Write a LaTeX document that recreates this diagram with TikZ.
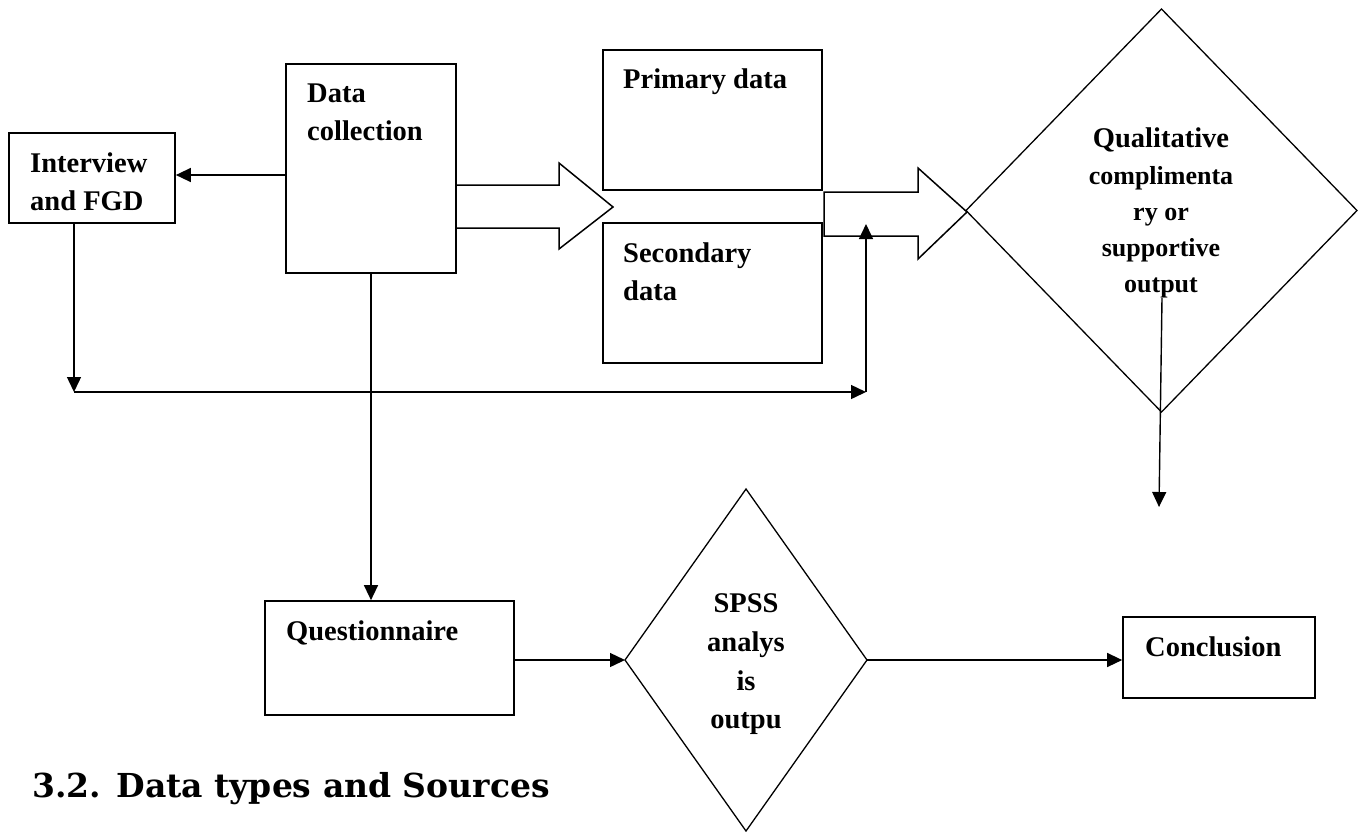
\documentclass[tikz,border=0pt]{standalone}
\usepackage{fontspec}
\setmainfont{Liberation Serif}
\newfontfamily\headfont{DejaVu Serif}
\usetikzlibrary{shapes.geometric,arrows.meta,fit}

\tikzset{
  box/.style={draw, line width=1.7pt, rectangle, inner sep=0pt},
  decision/.style={draw, diamond, line width=1.3pt, inner sep=0pt, outer sep=0pt},
  blockarrow/.style={draw, line width=1.5pt, line join=miter},
  conn/.style={line width=1.4pt, -{Triangle[length=15pt,width=14pt]}},
  txt/.style={inner sep=0pt, font=\fontsize{28.5}{36}\selectfont\bfseries},
  smalltxt/.style={inner sep=0pt, font=\fontsize{26}{36}\selectfont\bfseries},
}

\begin{document}
\begin{tikzpicture}[x=1pt,y=-1pt]
\useasboundingbox (0,0) rectangle (1362,831);

% boxes
\node[box, fit={(9,133) (175,223)}] (iv) {};
\node[box, fit={(286,64) (456,273)}] (dc) {};
\node[box, fit={(603,50) (822,190)}] (prim) {};
\node[box, fit={(603,223) (822,363)}] (sec) {};
\node[box, fit={(265,601) (514,715)}] (quest) {};
\node[box, fit={(1123,617) (1315,698)}] (conc) {};

% decisions
\node[decision, minimum width=391pt, minimum height=403pt] (qual) at (1161.5,210.5) {};
\node[decision, minimum width=242pt, minimum height=342pt] (spss) at (746,660) {};

% box texts
\node[txt, anchor=base west] (iv1) at (30,172) {Interview};
\node[txt, anchor=base west] (iv2) at (30,210) {and FGD};
\node[txt, anchor=base west] (dc1) at (307,102) {Data};
\node[txt, anchor=base west] (dc2) at (307,140) {collection};
\node[txt, anchor=base west] (pr1) at (623,88) {Primary data};
\node[txt, anchor=base west] (se1) at (623,262) {Secondary};
\node[txt, anchor=base west] (se2) at (623,300) {data};
\node[txt, anchor=base west] (qu1) at (286,640) {Questionnaire};
\node[txt, anchor=base west] (co1) at (1145,656) {Conclusion};

% decision texts
\node[txt, anchor=base] (ql1) at (1161,147) {Qualitative};
\node[smalltxt, anchor=base] (ql2) at (1161,184) {complimenta};
\node[smalltxt, anchor=base] (ql3) at (1161,220) {ry or};
\node[smalltxt, anchor=base] (ql4) at (1161,256) {supportive};
\node[smalltxt, anchor=base] (ql5) at (1161,292) {output};
\node[txt, anchor=base] (sp1) at (746,612) {SPSS};
\node[txt, anchor=base] (sp2) at (746,651) {analys};
\node[txt, anchor=base] (sp3) at (746,690) {is};
\node[txt, anchor=base] (sp4) at (746,728) {outpu};

% hollow block arrows
\draw[blockarrow] (456,185) -- (559,185) -- (559,163) -- (613,207)
  -- (559,249) -- (559,228) -- (456,228);
\draw[blockarrow] (824,192) -- (918,192) -- (918,168) -- (967,212)
  -- (918,259) -- (918,236) -- (824,236) -- cycle;

% connectors
\coordinate (corner) at (74,392);
\coordinate (joint) at (866,392);
\coordinate (upend) at (866,224);
\coordinate (qdtop) at (1162,298);
\coordinate (qdend) at (1159,507);

\draw[conn] (dc.west |- 0,175) -- (iv.east |- 0,175);
\draw[conn] (iv.south -| corner) -- (corner);
\draw[conn] (corner) -- (joint);
\draw[conn] (joint) -- (upend);
\draw[conn] (dc.south) -- (dc.south |- quest.north);
\draw[conn] (quest.east |- spss.west) -- (spss.west);
\draw[conn] (spss.east) -- (conc.west |- spss.east);
\draw[conn] (qdtop) -- (qdend);

% section heading
\node[inner sep=0pt, anchor=base west, font=\headfont\fontsize{33}{40}\selectfont\bfseries]
  (head) at (32,797) {3.2. Data types and Sources};
\end{tikzpicture}
\end{document}
